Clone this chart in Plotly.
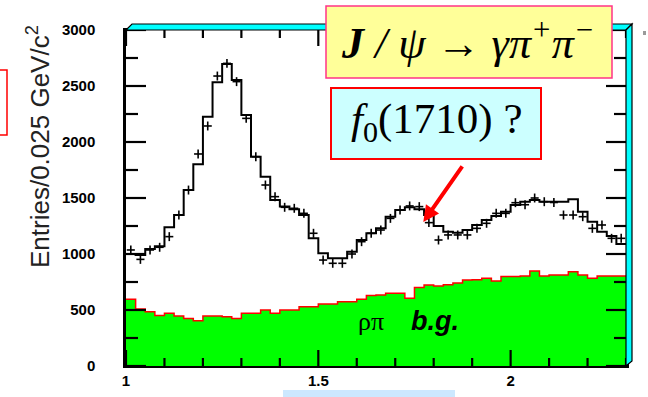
import plotly.graph_objects as go

# Binning: 52 bins of 0.025 GeV/c^2 from 1.0 to 2.3
bin_lo = 1.0
bin_width = 0.025
n_bins = 52

# Fitted total (black step histogram)
fit_counts = [1000, 990, 1045, 1070, 1238, 1348, 1571, 1801, 2226, 2533,
              2696, 2554, 2241, 1869, 1690, 1482, 1423, 1399, 1348, 1140,
              1006, 961, 963, 1021, 1125, 1185, 1229, 1333, 1393, 1417,
              1399, 1348, 1250, 1199, 1190, 1214, 1259, 1304, 1340, 1378,
              1437, 1467, 1482, 1467, 1467, 1467, 1488, 1378, 1289, 1199,
              1161, 1090]

# Measured events (crosses)
data_counts = [1036, 952, 1036, 1060, 1155, 1348, 1571, 1893, 2143, 2589,
               2702, 2539, 2211, 1869, 1616, 1512, 1417, 1408, 1363, 1185,
               946, 917, 917, 1000, 1110, 1185, 1214, 1318, 1393, 1429,
               1423, 1280, 1125, 1170, 1170, 1170, 1229, 1274, 1363, 1363,
               1458, 1440, 1500, 1467, 1460, 1348, 1348, 1333, 1229, 1259,
               1140, 1140]
data_err = 40

# rho-pi background (green filled histogram)
bg_counts = [595, 510, 485, 450, 470, 446, 425, 405, 446, 446,
             440, 425, 470, 470, 500, 470, 500, 500, 530, 530,
             554, 554, 574, 574, 595, 630, 634, 649, 649, 605,
             700, 723, 715, 725, 740, 768, 770, 783, 760, 798,
             798, 804, 848, 804, 813, 813, 842, 813, 783, 804,
             804, 804]

x_tick_vals = [1, 1.5, 2]
x_tick_text = ["1", "1.5", "2"]
y_tick_vals = [0, 500, 1000, 1500, 2000, 2500, 3000]
y_tick_text = ["0", "500", "1000", "1500", "2000", "2500", "3000"]
x_minor_step = 0.1
y_minor_step = 250

edges = [bin_lo + bin_width * i for i in range(n_bins + 1)]
centers = [bin_lo + bin_width * (i + 0.5) for i in range(n_bins)]
x_range = [edges[0], edges[-1]]
y_range = [0, 3000]

# Figure geometry in pixels (used for decorations placed in paper coordinates)
W, H = 648, 397
L, R, T, B = 126, 22, 30, 31
PW, PH = W - L - R, H - T - B


def px(x):
    return (x - L) / PW


def py(y):
    return (H - B - y) / PH


fig = go.Figure()

fig.add_trace(go.Scatter(
    x=edges, y=bg_counts + [bg_counts[-1]],
    mode="lines", line=dict(shape="hv", color="#ff0000", width=1.5),
    fill="tozeroy", fillcolor="#00ff00", hoverinfo="skip", showlegend=False))

fig.add_trace(go.Scatter(
    x=edges, y=fit_counts + [fit_counts[-1]],
    mode="lines", line=dict(shape="hv", color="#000000", width=2),
    hoverinfo="skip", showlegend=False))

fig.add_trace(go.Scatter(
    x=centers, y=data_counts, mode="markers",
    marker=dict(size=1, color="#000000"),
    error_x=dict(type="constant", value=0.0105, color="#000000", thickness=1.6, width=0),
    error_y=dict(type="constant", value=data_err, color="#000000", thickness=1.6, width=0),
    showlegend=False))

# Inside tick marks on all four sides (major and minor), in axis units
x_per_px = (x_range[1] - x_range[0]) / PW
y_per_px = (y_range[1] - y_range[0]) / PH
tick_x, tick_y = [], []
x_minor = [round(x_range[0] + x_minor_step * k, 6)
           for k in range(int(round((x_range[1] - x_range[0]) / x_minor_step)) + 1)]
for xv in x_minor:
    ln = (16 if xv in x_tick_vals else 8) * y_per_px
    tick_x += [xv, xv, None, xv, xv, None]
    tick_y += [y_range[0], y_range[0] + ln, None, y_range[1], y_range[1] - ln, None]
y_minor = [y_range[0] + y_minor_step * k
           for k in range(int((y_range[1] - y_range[0]) / y_minor_step) + 1)]
for yv in y_minor:
    ln = (20 if yv in y_tick_vals else 12) * x_per_px
    tick_x += [x_range[0], x_range[0] + ln, None, x_range[1], x_range[1] - ln, None]
    tick_y += [yv, yv, None, yv, yv, None]
fig.add_trace(go.Scatter(
    x=tick_x, y=tick_y, mode="lines", line=dict(color="#000000", width=2.2),
    connectgaps=False, hoverinfo="skip", showlegend=False, cliponaxis=False))

axis_font = dict(family="Liberation Sans, Arial", size=15, color="#000000")

fig.update_xaxes(
    range=x_range, showgrid=False, zeroline=False, automargin=False,
    showline=True, linecolor="#000000", linewidth=2, mirror=True,
    ticks="", tickvals=x_tick_vals, ticktext=["<b>%s</b>" % t for t in x_tick_text],
    tickfont=axis_font,
)
fig.update_yaxes(
    range=y_range, showgrid=False, zeroline=False, automargin=False,
    showline=True, linecolor="#000000", linewidth=2.5, mirror=True,
    ticks="", tickvals=y_tick_vals, ticktext=["<b>%s</b>" % t for t in y_tick_text],
    tickfont=axis_font, ticklabelstandoff=25,
)

shapes = []
# 3D frame: cyan top and right bevels
shapes.append(dict(
    type="path", xref="paper", yref="paper",
    path="M %f %f L %f %f L %f %f L %f %f Z" % (px(126), py(30), px(132), py(24),
                                                px(632), py(24), px(626), py(30)),
    fillcolor="#00ffff", line=dict(color="#000000", width=1.2), layer="above"))
shapes.append(dict(
    type="path", xref="paper", yref="paper",
    path="M %f %f L %f %f L %f %f L %f %f Z" % (px(626), py(30), px(632), py(24),
                                                px(632), py(361), px(626), py(366)),
    fillcolor="#00ffff", line=dict(color="#000000", width=1.2), layer="above"))
# Boxes
shapes.append(dict(type="rect", xref="paper", yref="paper",
                   x0=px(326), x1=px(612), y0=py(78), y1=py(6),
                   fillcolor="#ffff99", line=dict(color="#ff3388", width=1.5), layer="above"))
shapes.append(dict(type="rect", xref="paper", yref="paper",
                   x0=px(331), x1=px(541), y0=py(159), y1=py(88),
                   fillcolor="#ccffff", line=dict(color="#ff0000", width=2), layer="above"))
shapes.append(dict(type="rect", xref="paper", yref="paper",
                   x0=px(-4), x1=px(7), y0=py(135), y1=py(70),
                   fillcolor="#ffffff", line=dict(color="#ff0000", width=1.5), layer="above"))
shapes.append(dict(type="rect", xref="paper", yref="paper",
                   x0=px(283), x1=px(455), y0=py(402), y1=py(390),
                   fillcolor="#cce8ff", line=dict(width=0), layer="below"))
shapes.append(dict(type="rect", xref="paper", yref="paper",
                   x0=px(643), x1=px(646), y0=py(35), y1=py(31),
                   fillcolor="#9a9a9a", line=dict(width=0), layer="above"))

annotations = [
    dict(xref="paper", yref="paper", x=px(38), y=py(147), textangle=-90,
         text="Entries/0.025 GeV/c<sup>2</sup>", showarrow=False,
         font=dict(family="Liberation Sans, Arial", size=26, color="#222222"),
         xanchor="center", yanchor="middle"),
    dict(xref="paper", yref="paper", x=px(468), y=py(40),
         text="<b><i>J</i></b><i> / ψ → γπ<sup>+</sup>π<sup>−</sup></i>", showarrow=False,
         font=dict(family="Liberation Serif, Times New Roman", size=44, color="#000000"),
         xanchor="center", yanchor="middle"),
    dict(xref="paper", yref="paper", x=px(436), y=py(122),
         text="<i>f</i><sub>0</sub>(1710) ?", showarrow=False,
         font=dict(family="Liberation Serif, Times New Roman", size=43, color="#000000"),
         xanchor="center", yanchor="middle"),
    dict(xref="paper", yref="paper", x=px(371), y=py(321),
         text="ρπ", showarrow=False,
         font=dict(family="Liberation Serif, Times New Roman", size=26, color="#000000"),
         xanchor="center", yanchor="middle"),
    dict(xref="paper", yref="paper", x=px(435), y=py(321),
         text="<b><i>b.g.</i></b>", showarrow=False,
         font=dict(family="Liberation Sans, Arial", size=27, color="#000000"),
         xanchor="center", yanchor="middle"),
    # arrow pointing at the f0(1710) region
    dict(x=1.773, y=1286, xref="x", yref="y", text="", showarrow=True,
         ax=40, ay=-57, arrowhead=2, arrowsize=0.8, arrowwidth=4, arrowcolor="#ff0000"),
]

fig.update_layout(
    width=W, height=H, margin=dict(l=L, r=R, t=T, b=B),
    paper_bgcolor="#ffffff", plot_bgcolor="#ffffff",
    shapes=shapes, annotations=annotations, showlegend=False,
)

fig.write_html("out.html")
